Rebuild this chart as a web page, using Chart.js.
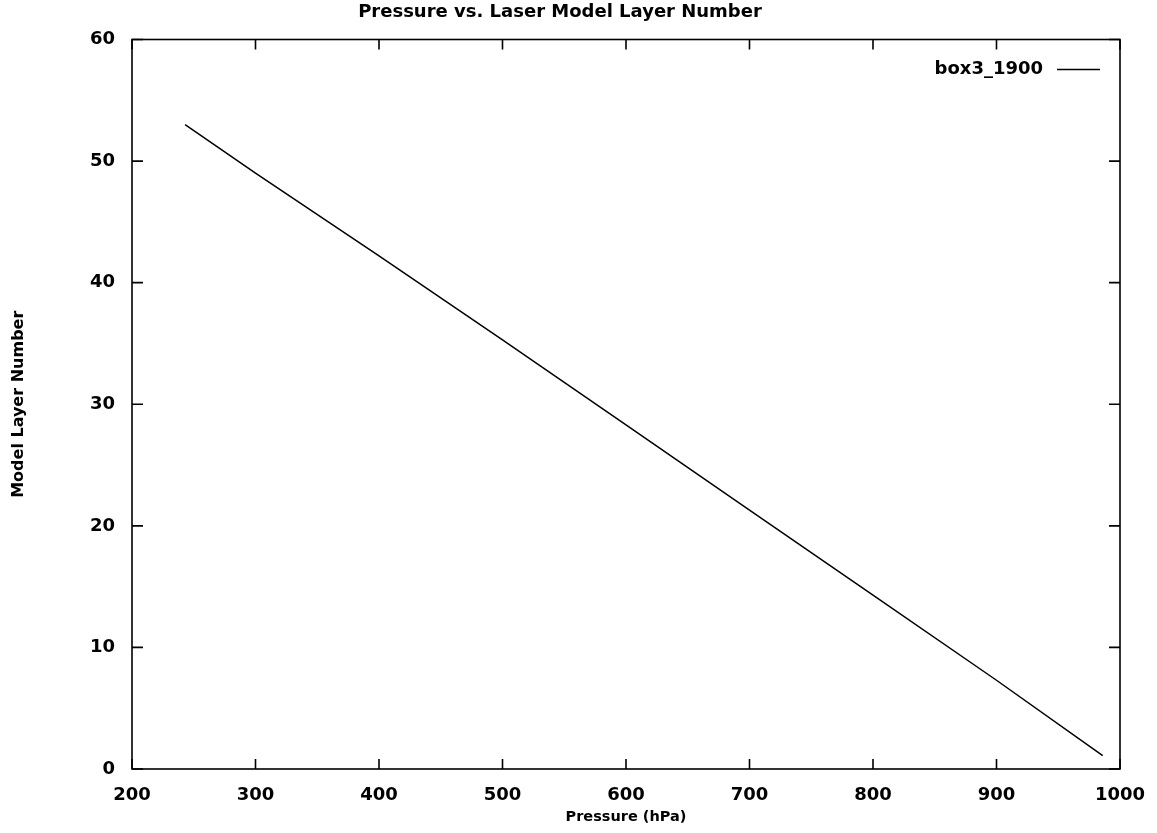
<!DOCTYPE html>
<html>
<head>
<meta charset="utf-8">
<script src="https://cdn.jsdelivr.net/npm/chart.js@4.4.1/dist/chart.umd.min.js"></script>
<style>
  html, body { margin: 0; padding: 0; background: #fff; }
  #wrap { width: 1157px; height: 833px; }
</style>
</head>
<body>
<div id="wrap"><canvas id="myChart" width="1157" height="833"></canvas></div>
<script>
'use strict';

// values
let chartTitle = 'Pressure vs. Laser Model Layer Number';
let seriesName = 'box3_1900';
let pressure = [243, 300, 400, 500, 600, 700, 800, 900, 986];
let layerNumber = [53.0, 49.0, 42.2, 35.3, 28.3, 21.3, 14.3, 7.3, 1.1];
let xTicks = [200, 300, 400, 500, 600, 700, 800, 900, 1000];
let yTicks = [0, 10, 20, 30, 40, 50, 60];

let fontName = '"DejaVu Sans", "Liberation Sans", sans-serif';

let points = [];
for (let i = 0; i < pressure.length; i++) {
  points.push({ x: pressure[i], y: layerNumber[i] });
}

//////////////////// frame, inside ticks and legend (gnuplot look) ////////////////////
let gnuFrame = {
  id: 'gnuFrame',
  afterDatasetsDraw(chart) {
    let ctx = chart.ctx;
    let a = chart.chartArea;
    let x = chart.scales.x;
    let y = chart.scales.y;
    ctx.save();
    ctx.strokeStyle = '#000';
    ctx.lineWidth = 1.6;
    ctx.strokeRect(a.left, a.top, a.right - a.left, a.bottom - a.top);
    ctx.beginPath();
    x.ticks.forEach(t => {
      let px = x.getPixelForValue(t.value);
      ctx.moveTo(px, a.bottom); ctx.lineTo(px, a.bottom - 10);
      ctx.moveTo(px, a.top); ctx.lineTo(px, a.top + 10);
    });
    y.ticks.forEach(t => {
      let py = y.getPixelForValue(t.value);
      ctx.moveTo(a.left, py); ctx.lineTo(a.left + 11, py);
      ctx.moveTo(a.right, py); ctx.lineTo(a.right - 11, py);
    });
    ctx.stroke();

    // legend: text then line sample, top right
    let ds = chart.data.datasets[0];
    let ly = a.top + 30;
    ctx.font = 'bold 18px ' + fontName;
    ctx.fillStyle = '#000';
    ctx.textAlign = 'right';
    ctx.textBaseline = 'middle';
    ctx.fillText(ds.label, a.right - 77, ly);
    ctx.beginPath();
    ctx.lineWidth = 1.5;
    ctx.moveTo(a.right - 63, ly);
    ctx.lineTo(a.right - 20, ly);
    ctx.stroke();
    ctx.restore();
  }
};

let ctx = document.getElementById('myChart');

let myChart = new Chart(ctx, {
  type: 'line',
  data: {
    datasets: [{
      label: seriesName,
      data: points,
      borderColor: '#000',
      borderWidth: 1.5,
      pointRadius: 0,
      tension: 0,
      fill: false
    }]
  },
  options: {
    responsive: false,
    animation: false,
    layout: { padding: { left: 0, right: 37, top: 0, bottom: 0 } },
    plugins: {
      legend: { display: false },
      tooltip: { enabled: false },
      title: {
        display: true,
        text: chartTitle,
        color: '#000',
        font: { family: fontName, size: 18, weight: 'bold' },
        padding: { top: 2, bottom: 15.9 }
      }
    },
    scales: {
      x: {
        type: 'linear',
        min: 200,
        max: 1000,
        afterBuildTicks: s => { s.ticks = xTicks.map(v => ({ value: v })); },
        afterFit: s => {
          s.height = 64;
          // keep the label overhang from pushing the plot edge inwards
          s.paddingLeft = 0;
          s.paddingRight = 0;
        },
        grid: { display: false, drawTicks: false },
        border: { display: false },
        ticks: {
          color: '#000',
          padding: 16,
          maxRotation: 0,
          callback: v => String(v),
          font: { family: fontName, size: 18, weight: 'bold' }
        },
        title: {
          display: true,
          text: 'Pressure (hPa)',
          color: '#000',
          font: { family: fontName, size: 14.5, weight: 'bold' },
          padding: { top: 0, bottom: 7 }
        }
      },
      y: {
        type: 'linear',
        min: 0,
        max: 60,
        afterBuildTicks: s => { s.ticks = yTicks.map(v => ({ value: v })); },
        afterFit: s => { s.width = 132; },
        grid: { display: false, drawTicks: false },
        border: { display: false },
        ticks: {
          color: '#000',
          padding: 17,
          callback: v => String(v),
          font: { family: fontName, size: 18, weight: 'bold' }
        },
        title: {
          display: true,
          text: 'Model Layer Number',
          color: '#000',
          font: { family: fontName, size: 16, weight: 'bold' },
          padding: { top: 9, bottom: 0 }
        }
      }
    }
  },
  plugins: [gnuFrame]
});
</script>
</body>
</html>
